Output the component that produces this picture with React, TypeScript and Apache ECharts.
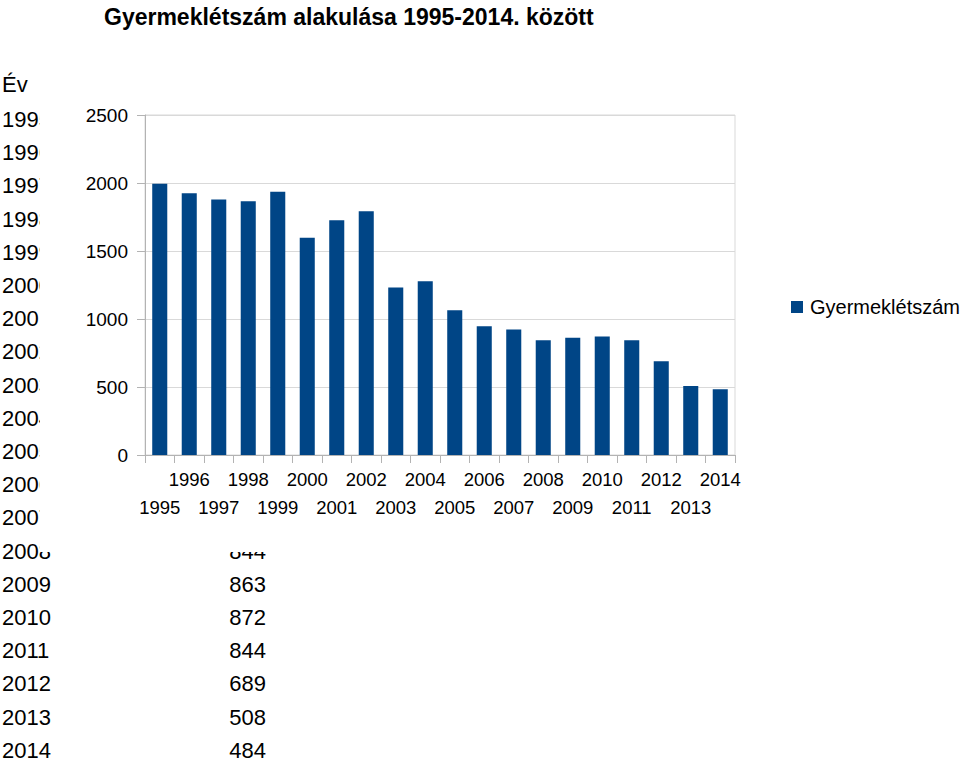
import React, { useEffect, useRef } from "react";
import * as echarts from "echarts";

const TITLE = "Gyermeklétszám alakulása 1995-2014. között";
const SERIES_NAME = "Gyermeklétszám";
const TABLE_HEADER = "Év";
const years = [
  "1995", "1996", "1997", "1998", "1999", "2000", "2001", "2002", "2003", "2004",
  "2005", "2006", "2007", "2008", "2009", "2010", "2011", "2012", "2013", "2014",
];
const values = [
  1995, 1924, 1878, 1866, 1936, 1598, 1726, 1792, 1231, 1277,
  1064, 947, 922, 844, 863, 872, 844, 689, 508, 484,
];
const yTicks = { min: 0, max: 2500, interval: 500 };

const FONT = '"Liberation Sans", Arial, sans-serif';

export default function App() {
  const ref = useRef<HTMLDivElement>(null);
  useEffect(() => {
    if (!ref.current) return;
    const chart = echarts.init(ref.current, null, { renderer: "svg" });

    const rowY0 = 119.5;
    const rowStep = 33.2;
    const coverBottom = 552;
    const tableFont = `22px ${FONT}`;
    const tableTexts: any[] = [];
    tableTexts.push({
      type: "text",
      x: 2,
      y: 84,
      z: -2,
      style: { text: TABLE_HEADER, fill: "#000", font: tableFont, align: "left", verticalAlign: "middle" },
    });
    years.forEach((yr, i) => {
      const y = rowY0 + rowStep * i;
      tableTexts.push({
        type: "text",
        x: 2,
        y,
        z: -2,
        style: { text: yr, fill: "#000", font: tableFont, align: "left", verticalAlign: "middle" },
      });
      // the value column lies wholly under the chart above its bottom edge
      if (y + 11 > coverBottom) {
        tableTexts.push({
          type: "text",
          x: 266,
          y,
          z: -2,
          style: { text: String(values[i]), fill: "#000", font: tableFont, align: "right", verticalAlign: "middle" },
        });
      }
    });

    const labelBase = {
      fontFamily: FONT,
      fontSize: 18.5,
      color: "#000",
    };

    chart.setOption({
      animation: false,
      backgroundColor: "#ffffff",
      title: {
        text: TITLE,
        left: 99,
        top: 0,
        textStyle: { fontFamily: FONT, fontSize: 23, fontWeight: "bold", color: "#000" },
      },
      graphic: [
        ...tableTexts,
        {
          type: "rect",
          z: -1,
          shape: { x: 40, y: 0, width: 920, height: coverBottom },
          style: { fill: "#ffffff" },
        },
      ],
      legend: {
        left: 786,
        top: 292,
        icon: "rect",
        itemWidth: 12,
        itemHeight: 12,
        textStyle: { fontFamily: FONT, fontSize: 20, color: "#000", padding: [0, 0, 0, 2] },
        data: [SERIES_NAME],
      },
      grid: {
        left: 145,
        right: 225,
        top: 115,
        bottom: 307,
        show: true,
        borderColor: "#d9d9d9",
        borderWidth: 1,
        backgroundColor: "transparent",
      },
      xAxis: [
        {
          type: "category",
          data: years,
          axisLine: { show: true, lineStyle: { color: "#b3b3b3", width: 1 } },
          axisTick: { show: true, length: 8, interval: 0, lineStyle: { color: "#b3b3b3" } },
          axisLabel: {
            ...labelBase,
            margin: 15,
            interval: (index: number) => index % 2 === 1,
          },
          splitLine: { show: false },
        },
        {
          type: "category",
          data: years,
          position: "bottom",
          axisLine: { show: false },
          axisTick: { show: false },
          axisLabel: {
            ...labelBase,
            margin: 43,
            interval: (index: number) => index % 2 === 0,
          },
          splitLine: { show: false },
        },
      ],
      yAxis: {
        type: "value",
        min: yTicks.min,
        max: yTicks.max,
        interval: yTicks.interval,
        axisLine: { show: true, lineStyle: { color: "#b3b3b3", width: 1 } },
        axisTick: { show: true, length: 8, lineStyle: { color: "#b3b3b3" } },
        axisLabel: { fontFamily: FONT, fontSize: 19, color: "#000", margin: 17, formatter: (v: number) => String(v) },
        splitLine: { show: true, lineStyle: { color: "#d9d9d9", width: 1 } },
      },
      series: [
        {
          name: SERIES_NAME,
          type: "bar",
          xAxisIndex: 0,
          data: values,
          barWidth: "51%",
          itemStyle: { color: "#004586" },
        },
      ],
    });
    return () => chart.dispose();
  }, []);
  return (
    <div
      ref={ref}
      style={{ position: "absolute", left: 0, top: 0, width: 960, height: 762 }}
    />
  );
}
